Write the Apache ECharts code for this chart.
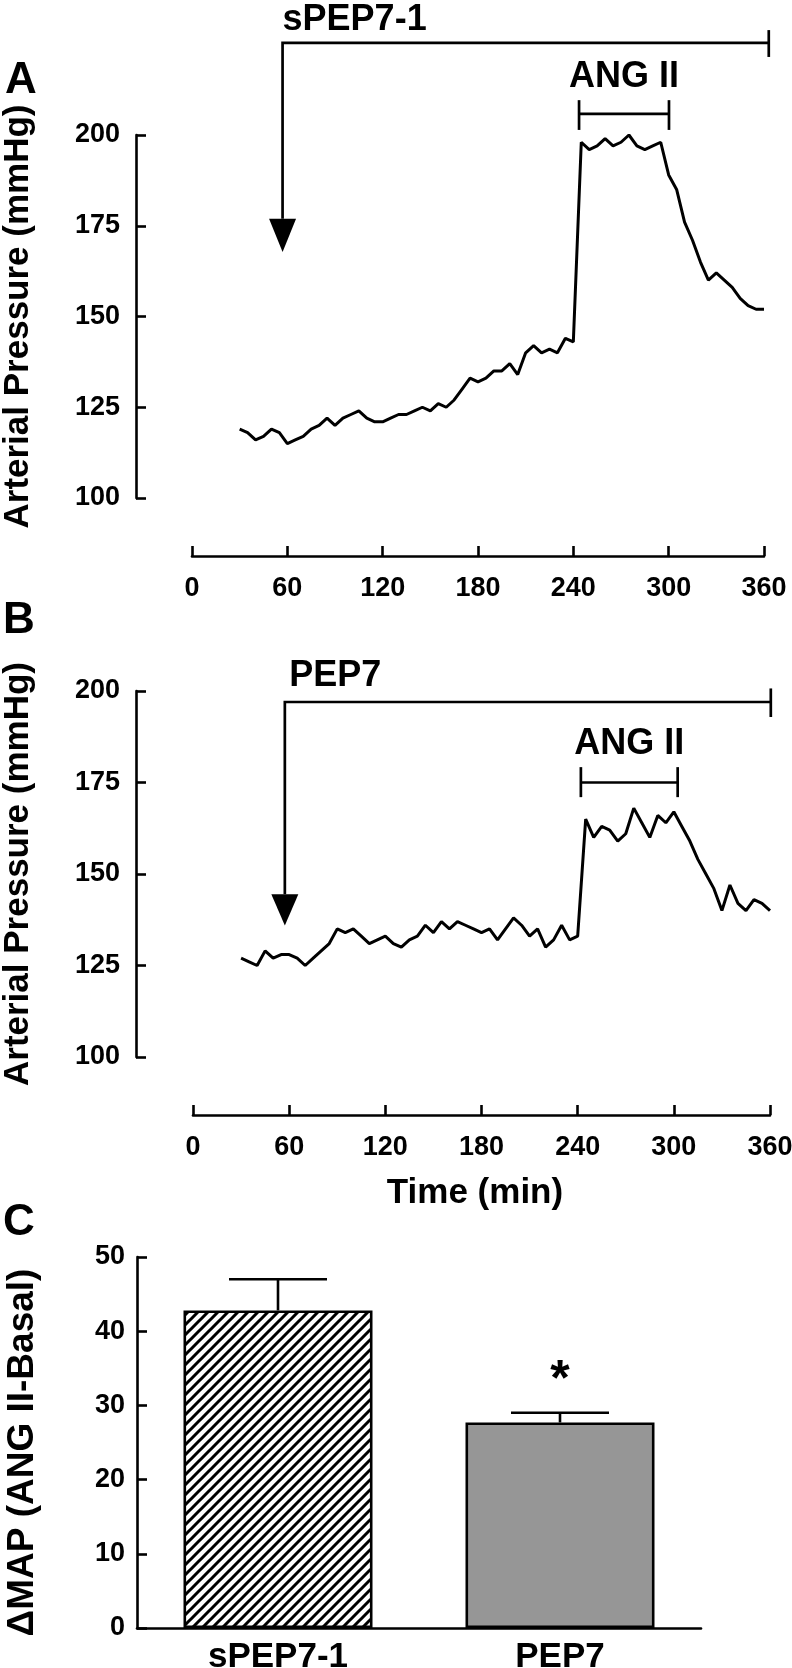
<!DOCTYPE html>
<html>
<head>
<meta charset="utf-8">
<script src="https://cdn.jsdelivr.net/npm/echarts@6/dist/echarts.min.js"></script>
<style>html,body{margin:0;padding:0;background:#fff}#c{width:792px;height:1668px}</style>
</head>
<body>
<div id="c"></div>
<script>
// ---------- DATA ----------
const timeMin = [30,35,40,45,50,55,60,65,70,75,80,85,90,95,100,105,110,115,120,125,130,135,140,145,150,155,160,165,170,175,180,185,190,195,200,205,210,215,220,225,230,235,240,245,250,255,260,265,270,275,280,285,290,295,300,305,310,315,320,325,330,335,340,345,350,355,360];
const pressureA = [119,118,116,117,119,118,115,116,117,119,
                   120,122,120,122,123,124,122,121,121,122,
                   123,123,124,125,124,126,125,127,130,133,
                   132,133,135,135,137,134,140,142,140,141,
                   140,144,143,198,196,197,199,197,198,200,
                   197,196,197,198,189,185,176,171,165,160,
                   162,160,158,155,153,152,152];
const pressureB = [127,126,125,129,127,128,128,127,125,127,
                   129,131,135,134,135,133,131,132,133,131,
                   130,132,133,136,134,137,135,137,136,135,
                   134,135,132,135,138,136,133,135,130,132,
                   136,132,133,165,160,163,162,159,161,168,
                   164,160,166,164,167,163,159,154,150,146,
                   140,147,142,140,143,142,140];
const timeTicks = [0,60,120,180,240,300,360];
const pressureTicks = [100,125,150,175,200];
const barCategories = ['sPEP7-1','PEP7'];
const barValues = [42.8, 27.7];
const barErrors = [4.2, 1.3];
const significance = ['', '*'];
const deltaTicks = [0,10,20,30,40,50];

// treatment / infusion periods (minutes)
const peptideLabels = ['sPEP7-1','PEP7'];
const peptideStart = [57, 57.3];
const peptideEnd = [363, 360.5];
const angLabel = 'ANG II';
const angStart = [243.6, 242];
const angEnd = [300.2, 302.4];

// ---------- STYLE / LAYOUT ----------
const black = '#000';
const fontBold = "'Liberation Sans',Arial,sans-serif";
// vertical placement of the annotations, in each panel's pressure units
const annotLayout = [
  {bracketV:225.4, endTick:[228.9,221.5], head:[176.9,167.8], labelV:231.7, labelT:57,
   angV:205.8, angTick:[209.6,201.4], angLabelV:216},
  {bracketV:197, endTick:[200.7,192.9], head:[144.5,135.9], labelV:204.1, labelT:60,
   angV:175, angTick:[179.2,171], angLabelV:185.5}
];

function annotRender(k){
  const L = annotLayout[k];
  return function(params, api){
    const p = (t,v)=>api.coord([t,v]);
    const s = peptideStart[k], e = peptideEnd[k];
    const a = p(s, L.bracketV), b = p(e, L.bracketV);
    const eT = p(e, L.endTick[0]), eB = p(e, L.endTick[1]);
    const hT = p(s, L.head[0]), tip = p(s, L.head[1]);
    const g1 = p(angStart[k], L.angV), g2 = p(angEnd[k], L.angV);
    const g1t = p(angStart[k], L.angTick[0]), g1b = p(angStart[k], L.angTick[1]);
    const g2t = p(angEnd[k], L.angTick[0]), g2b = p(angEnd[k], L.angTick[1]);
    const lab = p(L.labelT, L.labelV);
    const angLab = p((angStart[k]+angEnd[k])/2, L.angLabelV);
    const ls = {stroke:black, lineWidth:2.7, fill:'none'};
    const font = 'bold 36px ' + fontBold;
    return {type:'group', children:[
      {type:'polyline', shape:{points:[b, a, hT]}, style:ls},
      {type:'line', shape:{x1:eT[0],y1:eT[1],x2:eB[0],y2:eB[1]}, style:ls},
      {type:'polygon', shape:{points:[[hT[0]-13.5,hT[1]],[hT[0]+13.5,hT[1]],tip]}, style:{fill:black}},
      {type:'text', style:{text:peptideLabels[k], x:lab[0], y:lab[1], fill:black, font:font, align:'left', verticalAlign:'middle'}},
      {type:'line', shape:{x1:g1[0],y1:g1[1],x2:g2[0],y2:g2[1]}, style:ls},
      {type:'line', shape:{x1:g1t[0],y1:g1t[1],x2:g1b[0],y2:g1b[1]}, style:ls},
      {type:'line', shape:{x1:g2t[0],y1:g2t[1],x2:g2b[0],y2:g2b[1]}, style:ls},
      {type:'text', style:{text:angLabel, x:angLab[0], y:angLab[1], fill:black, font:font, align:'center', verticalAlign:'middle'}}
    ]};
  };
}

const axisLineStyle = {show:true, onZero:false, lineStyle:{color:black, width:2.6}};
const tickStyle = {show:true, inside:true, length:10, lineStyle:{color:black, width:2.6}};
const tickLabel = (m)=>({color:black, fontFamily:fontBold, fontWeight:'bold', fontSize:27, margin:m});

function timeAxis(gi, offset, name){
  return {type:'value', gridIndex:gi, min:timeTicks[0], max:timeTicks[timeTicks.length-1],
    interval:timeTicks[1]-timeTicks[0], position:'bottom', offset:offset,
    axisLine:axisLineStyle, axisTick:tickStyle, axisLabel:tickLabel(19), splitLine:{show:false},
    name:name, nameLocation:'middle', nameGap:61, nameMoveOverlap:false,
    nameTextStyle:{color:black, fontFamily:fontBold, fontWeight:'bold', fontSize:35, padding:[0,13,0,0]}};
}
function pressAxis(gi, offset){
  return {type:'value', gridIndex:gi, min:pressureTicks[0], max:pressureTicks[pressureTicks.length-1],
    interval:pressureTicks[1]-pressureTicks[0], position:'left', offset:offset,
    axisLine:axisLineStyle, axisTick:tickStyle, axisLabel:tickLabel(16), splitLine:{show:false},
    name:'Arterial Pressure (mmHg)', nameLocation:'middle', nameGap:100, nameRotate:90, nameMoveOverlap:false,
    nameTextStyle:{color:black, fontFamily:fontBold, fontWeight:'bold', fontSize:35}};
}

// hatch pattern
const pc = document.createElement('canvas'); pc.width = 10; pc.height = 10;
const g = pc.getContext('2d');
g.fillStyle = '#fff'; g.fillRect(0,0,10,10);
g.strokeStyle = '#000'; g.lineWidth = 3; g.lineCap = 'square';
g.beginPath(); g.moveTo(-2,12); g.lineTo(12,-2); g.moveTo(-3,3); g.lineTo(3,-3); g.moveTo(7,13); g.lineTo(13,7); g.stroke();
const barFills = [{image: pc, repeat:'repeat'}, '#969696'];

const letterStyle = {fontSize:44, fontWeight:'bold', fontFamily:fontBold, color:black};

const option = {
  animation:false,
  backgroundColor:'#fff',
  title:[
    {text:'A', left:5, top:59, padding:0, textStyle:letterStyle},
    {text:'B', left:3, top:599, padding:0, textStyle:letterStyle},
    {text:'C', left:3, top:1201, padding:0, textStyle:letterStyle}
  ],
  grid:[
    {left:192, right:28, top:135, height:363, outerBoundsMode:'none', containLabel:false},
    {left:193, right:22, top:691, height:366, outerBoundsMode:'none', containLabel:false},
    {left:137, width:564, top:1257, height:371, outerBoundsMode:'none', containLabel:false}
  ],
  xAxis:[
    timeAxis(0, 58, ''),
    timeAxis(1, 58, 'Time (min)'),
    {type:'category', gridIndex:2, data:barCategories, position:'bottom',
     axisLine:axisLineStyle, axisTick:{show:false},
     axisLabel:{color:black, fontFamily:fontBold, fontWeight:'bold', fontSize:35, margin:12, interval:0},
     splitLine:{show:false}}
  ],
  yAxis:[
    pressAxis(0, 56),
    pressAxis(1, 57),
    {type:'value', gridIndex:2, min:deltaTicks[0], max:deltaTicks[deltaTicks.length-1],
     interval:deltaTicks[1]-deltaTicks[0], position:'left',
     axisLine:axisLineStyle, axisTick:tickStyle, axisLabel:tickLabel(12), splitLine:{show:false},
     name:'\u0394MAP (ANG II-Basal)', nameLocation:'middle', nameGap:96, nameRotate:90, nameMoveOverlap:false,
     nameTextStyle:{color:black, fontFamily:fontBold, fontWeight:'bold', fontSize:37, padding:[0,20,0,0]}}
  ],
  series:[
    {type:'line', xAxisIndex:0, yAxisIndex:0, data:timeMin.map((t,i)=>[t, pressureA[i]]),
     showSymbol:false, lineStyle:{color:black, width:3}, itemStyle:{color:black}, clip:false},
    {type:'line', xAxisIndex:1, yAxisIndex:1, data:timeMin.map((t,i)=>[t, pressureB[i]]),
     showSymbol:false, lineStyle:{color:black, width:3}, itemStyle:{color:black}, clip:false},
    {type:'custom', xAxisIndex:0, yAxisIndex:0, data:[[0,150]], clip:false, silent:true, renderItem:annotRender(0)},
    {type:'custom', xAxisIndex:1, yAxisIndex:1, data:[[0,150]], clip:false, silent:true, renderItem:annotRender(1)},
    {type:'bar', xAxisIndex:2, yAxisIndex:2, barWidth:189,
     data:barValues.map((v,i)=>({value:v, itemStyle:{color:barFills[i], borderColor:black, borderWidth:2.6}}))},
    {type:'custom', xAxisIndex:2, yAxisIndex:2, clip:false, silent:true, z:5,
     data:barValues.map((v,i)=>[i, v, barErrors[i]]),
     renderItem:function(params, api){
       const i = api.value(0), v = api.value(1), e = api.value(2);
       const base = api.coord([i, v]), top = api.coord([i, v+e]);
       const ls = {stroke:black, lineWidth:2.6, fill:'none'};
       const ch = [
         {type:'line', shape:{x1:base[0],y1:base[1],x2:top[0],y2:top[1]}, style:ls},
         {type:'line', shape:{x1:top[0]-49,y1:top[1],x2:top[0]+49,y2:top[1]}, style:ls}
       ];
       const sig = significance[params.dataIndex];
       if (sig) ch.push({type:'text', style:{text:sig, x:top[0], y:top[1]-32, fill:black,
         font:'bold 50px ' + fontBold, align:'center', verticalAlign:'middle'}});
       return {type:'group', children:ch};
     }}
  ]
};

const chart = echarts.init(document.getElementById('c'), null, {renderer:'canvas'});
chart.setOption(option);
</script>
</body>
</html>
